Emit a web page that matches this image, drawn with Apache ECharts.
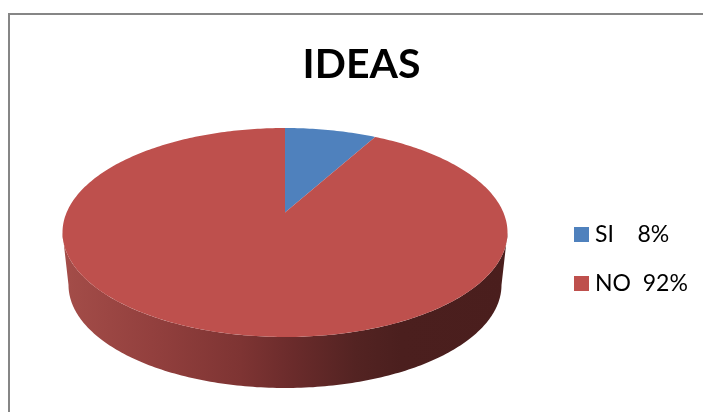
<!DOCTYPE html>
<html>
<head>
<meta charset="utf-8">
<style>html,body{margin:0;padding:0;background:#fff}#c{width:703px;height:412px}</style>
<script src="https://cdn.jsdelivr.net/npm/echarts@6/dist/echarts.min.js"></script>
</head>
<body>
<div id="c"></div>
<script>
const titleText = 'IDEAS';
const categories = ['SI', 'NO'];
const values = [8, 92];
const legendLabels = ['SI    8%', 'NO  92%'];
const colors = ['#4F81BD', '#BE504D'];

// Geometry of the tilted disc (projected circle)
const disc = { cx: 285, cy: 232.5, rx: 222.5, ry: 104.5, tilt: 0.191, bottomCy: 285, bottomRx: 216.5, bottomRy: 103 };
const sideStops = [
  [0, '#A44D49'], [0.2, '#93403E'], [0.4, '#7E3433'], [0.52, '#6A2B2B'],
  [0.66, '#532322'], [0.76, '#4B1F1E'], [1, '#4A1E1D']
];

const total = values.reduce((a, b) => a + b, 0);

// Circle angle (clockwise from 12 o'clock) to unit position on the screen ellipse
function project(theta) {
  const u = Math.sin(theta), v = Math.cos(theta), b = disc.tilt;
  const d = 1 + b * v;
  return [u * Math.sqrt(1 - b * b) / d, (v + b) / d];
}
function topPoint(p) { return [disc.cx + disc.rx * p[0], disc.cy - disc.ry * p[1]]; }
function bottomPoint(p) { return [disc.cx + disc.bottomRx * p[0], disc.bottomCy - disc.bottomRy * p[1]]; }

function renderSlice(index) {
  return function (params, api) {
    const before = values.slice(0, index).reduce((a, b) => a + b, 0);
    const a0 = before / total * 2 * Math.PI;
    const a1 = (before + api.value(0)) / total * 2 * Math.PI;
    const children = [];

    // Visible outer wall: only where the rim lies on the front half of the ellipse
    const f0 = Math.acos(-disc.tilt), f1 = 2 * Math.PI - f0;
    const s0 = Math.max(a0, f0), s1 = Math.min(a1, f1);
    if (s1 > s0) {
      const upper = [], lower = [];
      for (let i = 0; i <= 180; i++) {
        const p = project(s0 + (s1 - s0) * i / 180);
        upper.push(topPoint(p));
        lower.unshift(bottomPoint(p));
      }
      const left = disc.cx - disc.rx, width = 2 * disc.rx;
      children.push({
        type: 'polygon',
        shape: { points: upper.concat(lower) },
        style: {
          fill: new echarts.graphic.LinearGradient(left, 0, left + width, 0,
            sideStops.map(s => ({ offset: s[0], color: s[1] })), true)
        }
      });
    }

    // Top face
    const pts = [topPoint([0, disc.tilt])];
    const steps = Math.max(2, Math.round((a1 - a0) * 60));
    for (let i = 0; i <= steps; i++) pts.push(topPoint(project(a0 + (a1 - a0) * i / steps)));
    children.push({ type: 'polygon', shape: { points: pts }, style: { fill: colors[index] } });

    return { type: 'group', children: children };
  };
}

const chart = echarts.init(document.getElementById('c'), null, { renderer: 'canvas' });
chart.setOption({
  animation: false,
  backgroundColor: '#fff',
  title: {
    text: titleText,
    left: 356.5,
    top: 39,
    textAlign: 'center',
    textStyle: { fontFamily: 'Lato', fontWeight: 'bold', fontSize: 41, color: '#000' }
  },
  legend: {
    orient: 'vertical',
    left: 574,
    top: 223,
    padding: 0,
    itemWidth: 15,
    itemHeight: 15,
    itemGap: 26,
    icon: 'rect',
    data: legendLabels,
    textStyle: { fontFamily: 'Lato', fontSize: 23, color: '#000', padding: [0, 0, 0, 1] },
    selectedMode: false
  },
  graphic: [{
    type: 'polyline',
    silent: true,
    shape: { points: [[9, 412], [9, 14], [703, 14]] },
    style: { stroke: '#868686', lineWidth: 2, fill: null }
  }],
  series: categories.map((name, i) => ({
    type: 'custom',
    name: legendLabels[i],
    coordinateSystem: 'none',
    silent: true,
    itemStyle: { color: colors[i] },
    renderItem: renderSlice(i),
    data: [[values[i]]]
  }))
});
</script>
</body>
</html>
